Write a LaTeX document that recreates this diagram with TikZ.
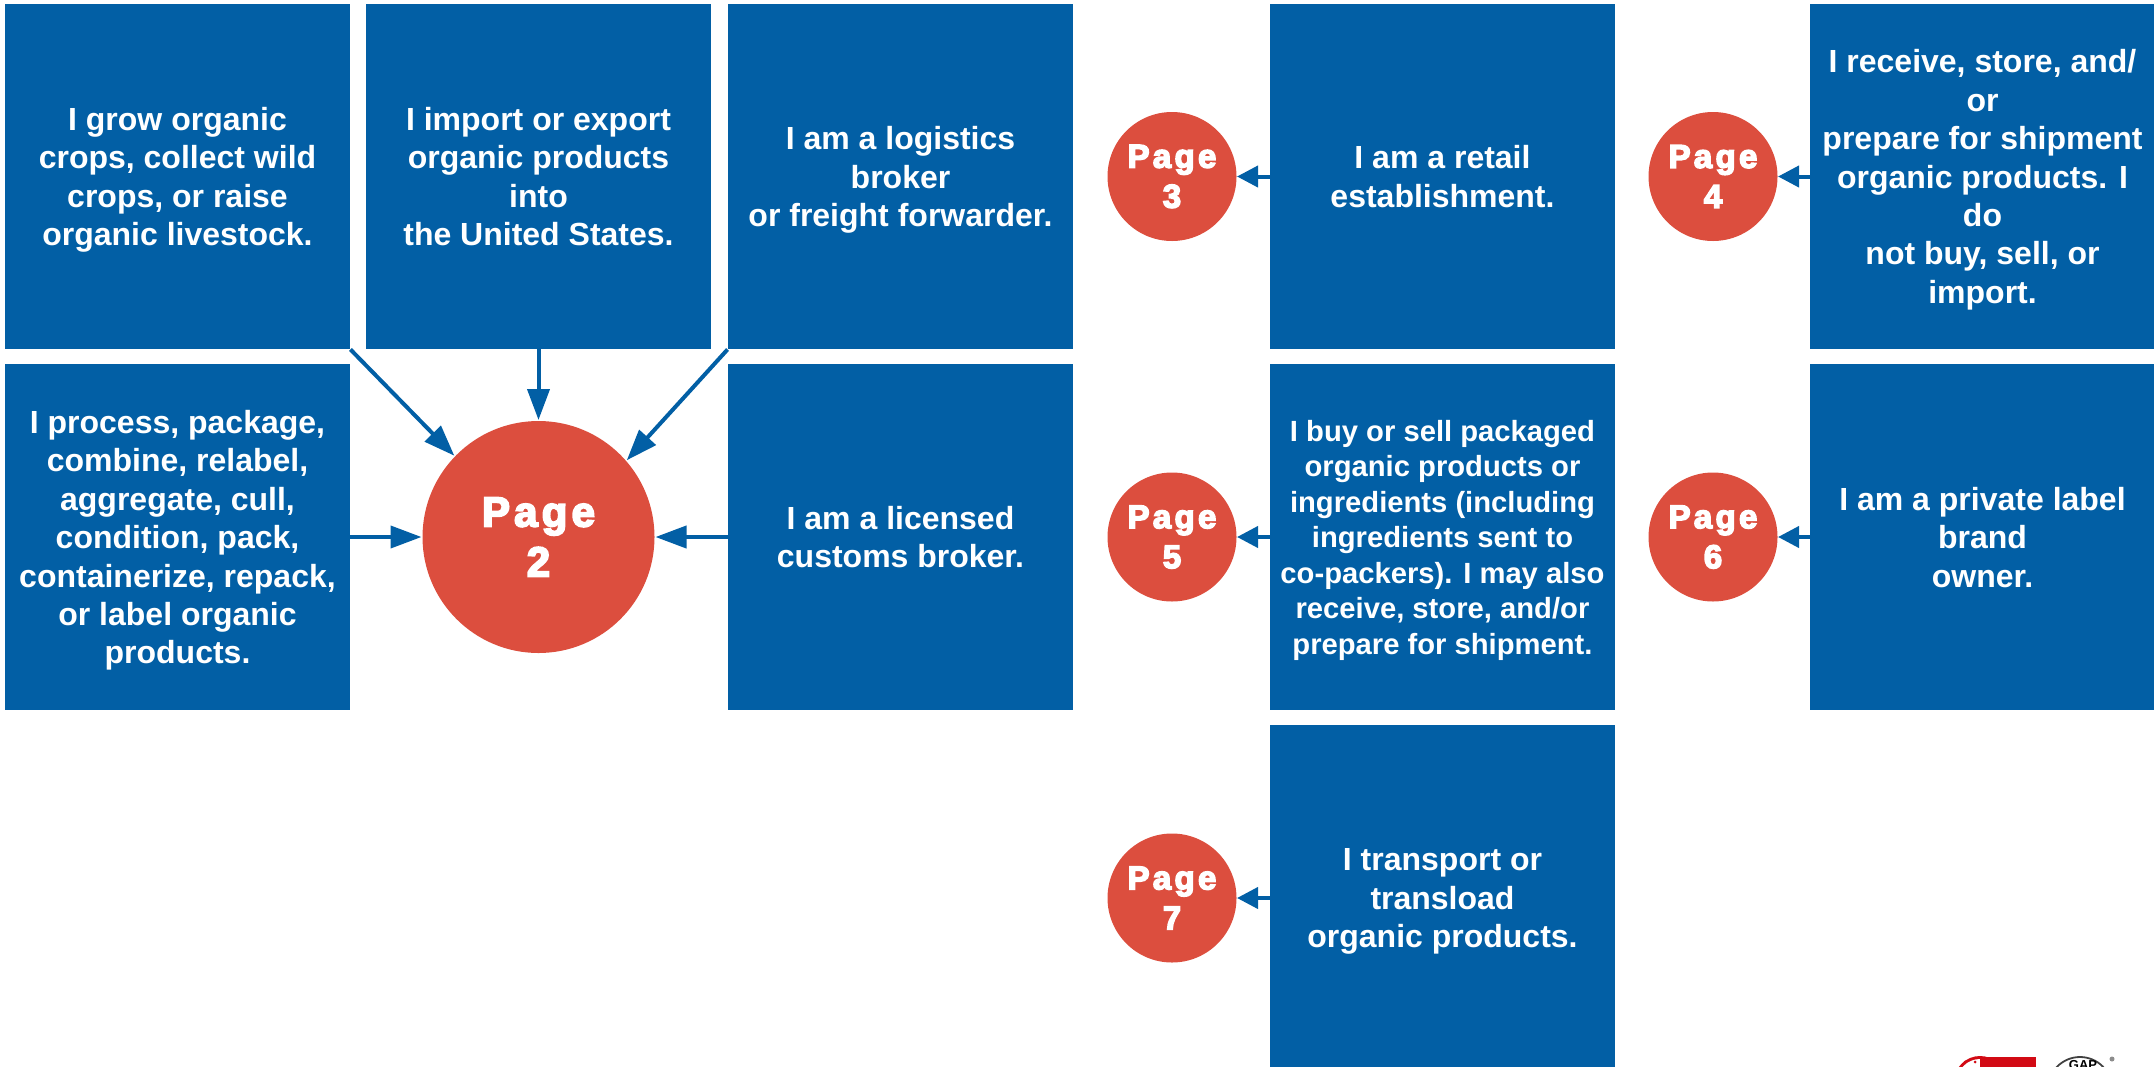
\documentclass[tikz,border=0pt]{standalone}
\usepackage{fontspec}
\setmainfont{Liberation Sans}[BoldFont={Liberation Sans Bold}]
\newfontfamily\pagefont[FakeBold=4.5,LetterSpace=10]{Liberation Sans Bold}
\usetikzlibrary{arrows.meta,calc}
\definecolor{boxblue}{HTML}{025FA5}
\definecolor{pagered}{HTML}{DC4E3E}
\definecolor{logored}{HTML}{D20A14}
\tikzset{
  x=1pt,y=-1pt,
  infobox/.style={fill=boxblue,draw=none,inner sep=0pt,minimum width=345.5pt,minimum height=345.5pt,text=white,align=center,text depth=0pt,font=\fontsize{32}{38.4}\selectfont\bfseries},
  denselabel/.style={font=\fontsize{29.2}{35.5}\selectfont\bfseries},
  bigpage/.style={circle,fill=pagered,draw=none,inner sep=0pt,minimum size=232pt,outer sep=1pt,text=white,align=center,font=\fontsize{42}{50}\pagefont},
  smallpage/.style={circle,fill=pagered,draw=none,inner sep=0pt,minimum size=129pt,outer sep=0.5pt,text=white,align=center,font=\fontsize{33}{40}\pagefont},
  bigflow/.style={draw=boxblue,line width=4pt,-{Triangle[length=31pt,width=22pt]}},
  smallflow/.style={draw=boxblue,line width=4pt,-{Triangle[length=21pt,width=21pt]}},
}
\begin{document}
\begin{tikzpicture}
\useasboundingbox (0,0) rectangle (2154,1066);
% boxes
\node[infobox] (grow) at (177.5,176.5) {I grow organic\\crops, collect wild\\crops, or raise\\organic livestock.};
\node[infobox] (import) at (538.5,176.5) {I import or export\\organic products\\into\\the United States.};
\node[infobox] (logistics) at (900.5,176.5) {I am a logistics\\broker\\or freight forwarder.};
\node[infobox] (retail) at (1442.5,176.5) {I am a retail\\establishment.};
\node[infobox] (store) at (1982.5,176.5) {I receive, store, and/\\or\\prepare for shipment\\organic products. I\\do\\not buy, sell, or\\import.};
\node[infobox] (process) at (177.5,537) {I process, package,\\combine, relabel,\\aggregate, cull,\\condition, pack,\\containerize, repack,\\or label organic\\products.};
\node[infobox] (customs) at (900.5,537) {I am a licensed\\customs broker.};
\node[infobox,denselabel] (buy) at (1442.5,537) {I buy or sell packaged\\organic products or\\ingredients (including\\ingredients sent to\\co-packers). I may also\\receive, store, and/or\\prepare for shipment.};
\node[infobox] (brand) at (1982.5,537) {I am a private label\\brand\\owner.};
\node[infobox] (transport) at (1442.5,898) {I transport or\\transload\\organic products.};
% circles
\node[bigpage] (p2) at (538.5,537) {Page\\2};
\node[smallpage] (p3) at (1172,176.5) {Page\\3};
\node[smallpage] (p4) at (1713,176.5) {Page\\4};
\node[smallpage] (p5) at (1172,537) {Page\\5};
\node[smallpage] (p6) at (1713,537) {Page\\6};
\node[smallpage] (p7) at (1172,898) {Page\\7};
% connectors
\draw[bigflow] (grow.south east) -- (p2.136);
\draw[bigflow] (import.south) -- (p2.north);
\draw[bigflow] (logistics.south west) -- (p2.41);
\draw[bigflow] (process.east) -- (p2.west);
\draw[bigflow] (customs.west) -- (p2.east);
\draw[smallflow] (retail.west) -- (p3.east);
\draw[smallflow] (store.west) -- (p4.east);
\draw[smallflow] (buy.west) -- (p5.east);
\draw[smallflow] (brand.west) -- (p6.east);
\draw[smallflow] (transport.west) -- (p7.east);
% cropped logos at the page foot
\fill[logored] (1980,1082) circle (26);
\fill[white] (1980,1082) circle (23);
\fill[logored] (1980,1056.5) rectangle (2036,1070);
\fill[logored] (1965,1062) circle (1.5) (1975,1062) circle (1.5);
\draw[black!75,line width=1.8pt] (2080,1089) circle (32);
\node[font=\fontsize{13}{14}\selectfont\bfseries,text=black,inner sep=0pt,anchor=north] (gap) at (2083,1060) {GAP};
\fill[black!45] (2112,1059) circle (2.5);
\end{tikzpicture}
\end{document}
